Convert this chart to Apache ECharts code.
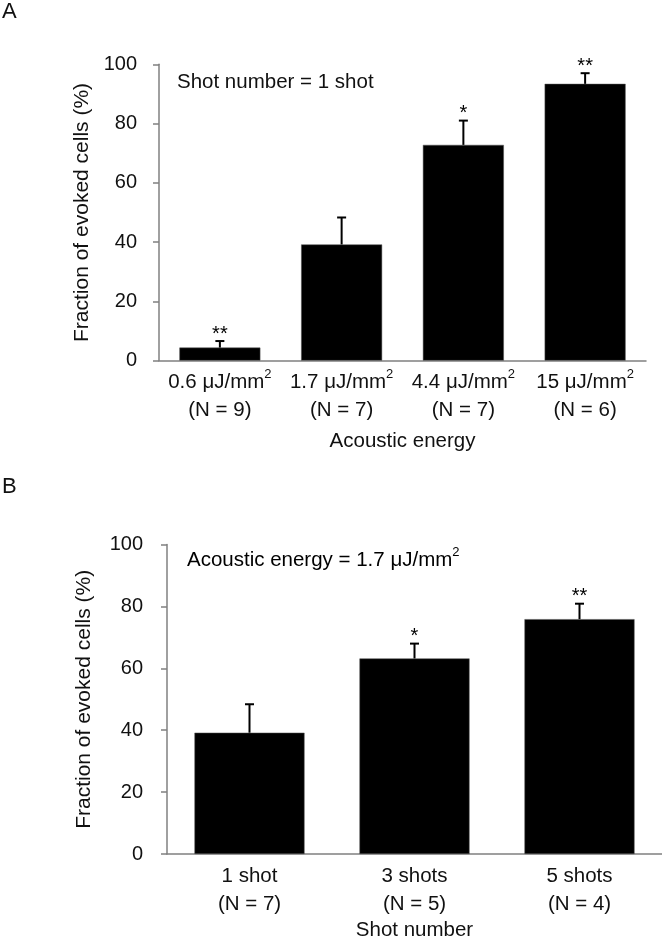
<!DOCTYPE html>
<html><head><meta charset="utf-8">
<script src="https://cdn.jsdelivr.net/npm/echarts@6/dist/echarts.min.js"></script>
<style>html,body{margin:0;padding:0;background:#fff}#c{width:662px;height:942px}</style>
</head><body><div id="c"></div>
<script>
// Panel A: acoustic energy (1 shot)
const energyLevels = ['0.6', '1.7', '4.4', '15'];
const energyN = [9, 7, 7, 6];
const energyMeans = [4.4, 39.2, 72.8, 93.4];
const energyErrTops = [6.6, 48.3, 81.0, 97.0];
const energyStars = ['**', '', '*', '**'];

// Panel B: shot number (1.7 uJ/mm2)
const shotLabels = ['1 shot', '3 shots', '5 shots'];
const shotN = [7, 5, 4];
const shotMeans = [39.2, 63.2, 75.9];
const shotErrTops = [48.4, 68.0, 80.9];
const shotStars = ['', '*', '**'];

const yMin = 0, yMax = 100, yStep = 20;

const FONT = '"Liberation Sans", Arial, sans-serif';
const TXT = '#111';
const AX = '#808080';

const richLbl = {
  a: {fontSize: 20.5, lineHeight: 28, fontFamily: FONT, color: TXT},
  s: {fontSize: 13, lineHeight: 22, fontFamily: FONT, color: TXT, verticalAlign: 'top'}
};

function errRender(stars) {
  return function (params, api) {
    const x = api.value(0), m = api.value(1), e = api.value(2);
    const p0 = api.coord([x, m]);
    const p1 = api.coord([x, e]);
    const star = stars[params.dataIndex];
    return {
      type: 'group',
      children: [
        {type: 'line', shape: {x1: p0[0], y1: p0[1], x2: p1[0], y2: p1[1]}, style: {stroke: '#000', lineWidth: 2}},
        {type: 'line', shape: {x1: p1[0] - 4.5, y1: p1[1], x2: p1[0] + 4.5, y2: p1[1]}, style: {stroke: '#000', lineWidth: 2}},
        {type: 'text', x: p1[0], y: p1[1] + 3, style: {text: star, fill: '#000', fontSize: 20, fontFamily: FONT, align: 'center', verticalAlign: 'bottom'}}
      ]
    };
  };
}

function yAxisCfg(gridIndex, margin, nameGap) {
  return {
    type: 'value', gridIndex, min: yMin, max: yMax, interval: yStep,
    name: 'Fraction of evoked cells (%)', nameLocation: 'middle', nameGap, nameRotate: 90,
    nameTextStyle: {fontSize: 21, fontFamily: FONT, color: TXT},
    axisLine: {show: true, lineStyle: {color: AX, width: 1.5}},
    axisTick: {show: true, inside: false, length: 6, lineStyle: {color: AX, width: 1.5}},
    axisLabel: {fontSize: 20, fontFamily: FONT, color: TXT, margin},
    splitLine: {show: false}
  };
}

const chart = echarts.init(document.getElementById('c'), null, {renderer: 'canvas'});
chart.setOption({
  animation: false,
  backgroundColor: '#fff',
  grid: [
    {left: 159, top: 64.3, width: 487, height: 296.3},
    {left: 167, top: 544.6, width: 495, height: 313.9}
  ],
  xAxis: [
    {
      type: 'category', gridIndex: 0,
      data: energyLevels.map((e, i) => `{a|${e} μJ/mm}{s|2}\n{a|(N = ${energyN[i]})}`),
      name: 'Acoustic energy', nameLocation: 'middle', nameGap: 70,
      nameTextStyle: {fontSize: 20.5, fontFamily: FONT, color: TXT},
      axisLine: {lineStyle: {color: AX, width: 1.5}},
      axisTick: {show: false},
      axisLabel: {margin: 7.5, interval: 0, rich: richLbl}
    },
    {
      type: 'category', gridIndex: 1,
      data: shotLabels.map((s, i) => `{a|${s}}\n{a|(N = ${shotN[i]})}`),
      name: 'Shot number', nameLocation: 'middle', nameGap: 66,
      nameTextStyle: {fontSize: 20.5, fontFamily: FONT, color: TXT},
      axisLine: {lineStyle: {color: AX, width: 1.5}},
      axisTick: {show: false},
      axisLabel: {margin: 8, interval: 0, rich: richLbl}
    }
  ],
  yAxis: [yAxisCfg(0, 22, 64), yAxisCfg(1, 24, 72)],
  series: [
    {type: 'bar', xAxisIndex: 0, yAxisIndex: 0, data: energyMeans, barWidth: '66.5%',
     itemStyle: {color: '#000', borderColor: '#555', borderWidth: 0.5}},
    {type: 'custom', xAxisIndex: 0, yAxisIndex: 0, z: 5,
     data: energyMeans.map((m, i) => [i, m, energyErrTops[i]]),
     encode: {x: 0, y: [1, 2]}, renderItem: errRender(energyStars)},
    {type: 'bar', xAxisIndex: 1, yAxisIndex: 1, data: shotMeans, barWidth: '66.7%',
     itemStyle: {color: '#000', borderColor: '#555', borderWidth: 0.5}},
    {type: 'custom', xAxisIndex: 1, yAxisIndex: 1, z: 5,
     data: shotMeans.map((m, i) => [i, m, shotErrTops[i]]),
     encode: {x: 0, y: [1, 2]}, renderItem: errRender(shotStars)}
  ],
  graphic: [
    {type: 'text', left: 2, top: 1, style: {text: 'A', fontSize: 22, fontFamily: FONT, fill: TXT}},
    {type: 'text', left: 2, top: 476, style: {text: 'B', fontSize: 22, fontFamily: FONT, fill: TXT}},
    {type: 'text', left: 177, top: 72, style: {text: 'Shot number = 1 shot', fontSize: 20.5, fontFamily: FONT, fill: TXT}},
    {type: 'text', left: 187, top: 546, style: {
      text: '{a|Acoustic energy = 1.7 μJ/mm}{s|2}', rich: richLbl}}
  ]
});
</script></body></html>
